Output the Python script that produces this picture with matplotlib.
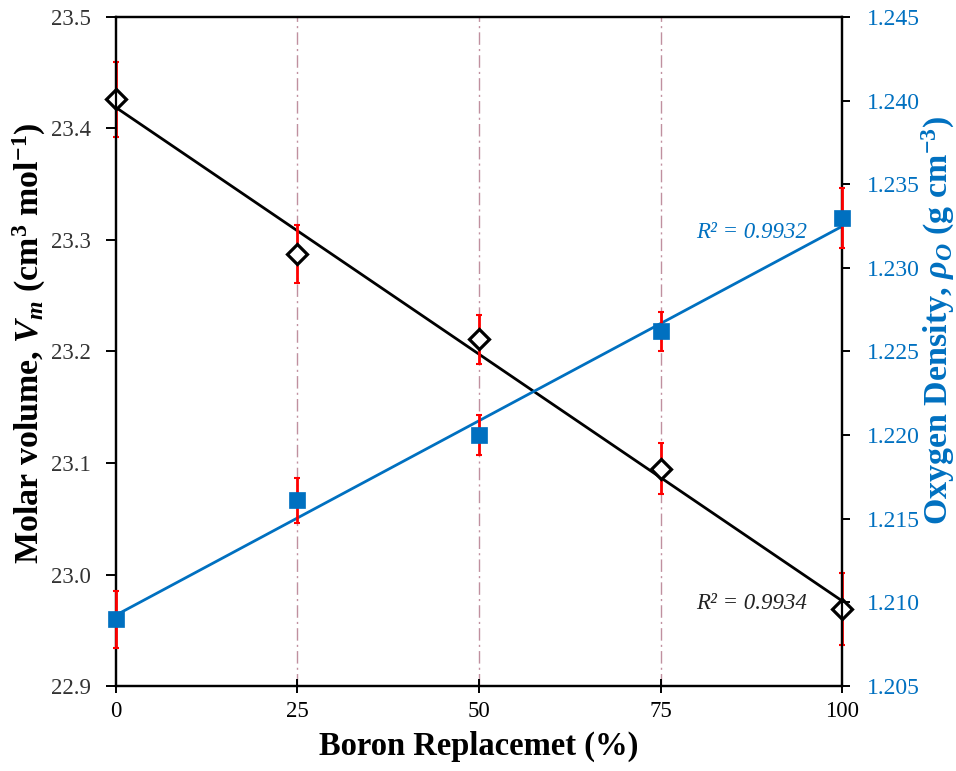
import numpy as np
import matplotlib
matplotlib.use("Agg")
import matplotlib.pyplot as plt

plt.rcParams['font.family'] = 'Liberation Serif'
plt.rcParams['mathtext.fontset'] = 'custom'
plt.rcParams['mathtext.rm'] = 'Liberation Serif:bold'
plt.rcParams['mathtext.it'] = 'Liberation Serif:italic:bold'
plt.rcParams['mathtext.bf'] = 'Liberation Serif:bold'

# data
boron = [0, 25, 50, 75, 100]
molar_vol = [23.426, 23.287, 23.211, 23.095, 22.969]
molar_err = [0.034, 0.026, 0.022, 0.0225, 0.032]
oxy_dens = [1.2090, 1.2161, 1.2200, 1.2262, 1.2330]
oxy_err = [0.0017, 0.00135, 0.0012, 0.00117, 0.0018]
r2_vm = "R² = 0.9934"
r2_rho = "R² = 0.9932"

blue = '#0070C0'
red = '#FF0000'

fig = plt.figure(figsize=(9.56, 7.71), dpi=100)
ax = fig.add_axes([0.1213, 0.1102, 0.7595, 0.8678])
ax2 = ax.twinx()

# vertical guide lines
for xv in boron[1:-1]:
    ax.axvline(xv, color='#c0909f', lw=1.0, ls=(0, (9, 3, 1.5, 3)), zorder=0)

# trend lines
x_fit = np.array([boron[0], boron[-1]], dtype=float)
p1 = np.polyfit(boron, molar_vol, 1)
ax.plot(x_fit, np.polyval(p1, x_fit), color='black', lw=2, zorder=2)
p2 = np.polyfit(boron, oxy_dens, 1)
ax2.plot(x_fit, np.polyval(p2, x_fit), color=blue, lw=2, zorder=2)

# error bars + markers
eb = ax.errorbar(boron, molar_vol, yerr=molar_err, fmt='none', ecolor=red,
                 elinewidth=2, capsize=2.5, capthick=1.5, zorder=3)
for art in eb.lines[1] + eb.lines[2]:
    art.set_clip_on(False)
ax.plot(boron, molar_vol, ls='none', marker='D', ms=10.5, mfc='white',
        mec='black', mew=2.3, zorder=4, clip_on=False)
eb2 = ax2.errorbar(boron, oxy_dens, yerr=oxy_err, fmt='none', ecolor=red,
                   elinewidth=2, capsize=2.5, capthick=1.5, zorder=3)
for art in eb2.lines[1] + eb2.lines[2]:
    art.set_clip_on(False)
ax2.plot(boron, oxy_dens, ls='none', marker='s', ms=11.5, mfc=blue,
         mec=blue, mew=0.5, zorder=4, clip_on=False)

ax.set_xlim(0, 100)
ax.set_ylim(22.9, 23.5)
ax2.set_ylim(1.205, 1.245)
ax.set_xticks(boron)
ax.set_yticks(np.arange(22.9, 23.51, 0.1))
ax.set_yticklabels([f"{v:.1f}" for v in np.arange(22.9, 23.51, 0.1)])
ax2.set_yticks(np.arange(1.205, 1.2451, 0.005))
ax2.set_yticklabels([f"{v:.3f}" for v in np.arange(1.205, 1.2451, 0.005)])

for a in (ax, ax2):
    for s in a.spines.values():
        s.set_linewidth(1.6)
ax.tick_params(axis='y', direction='out', length=7, width=1.4,
               labelsize=16.5, colors='black', labelcolor='#333333', pad=11)
ax.tick_params(axis='x', direction='inout', length=10, width=1.4,
               labelsize=16.5, colors='black', pad=6)
ax2.tick_params(axis='y', direction='out', length=6, width=1.4,
                labelsize=17, colors='black', labelcolor=blue, pad=12)

ax.text(95.2, 22.9744, r2_vm, ha='right', va='center', style='italic',
        fontsize=16.5, color='#222222')
ax2.text(95.2, 1.2321, r2_rho, ha='right', va='center', style='italic',
         fontsize=16.5, color=blue)

ax.set_xlabel("Boron Replacemet (%)", fontsize=23.5, fontweight='bold', labelpad=6)
ax.set_ylabel(r"Molar volume, $V_m$ (cm$^{3}$ mol$^{-1}$)", fontsize=24.5,
              fontweight='bold', va='center')
ax.yaxis.set_label_coords(-0.119, 0.513)
ax2.set_ylabel(r"Oxygen Density, $\rho_O$ (g cm$^{-3}$)", fontsize=24.5,
               fontweight='bold', color=blue, va='center')
ax2.yaxis.set_label_coords(1.133, 0.547)

fig.savefig("out.png", dpi=100)
